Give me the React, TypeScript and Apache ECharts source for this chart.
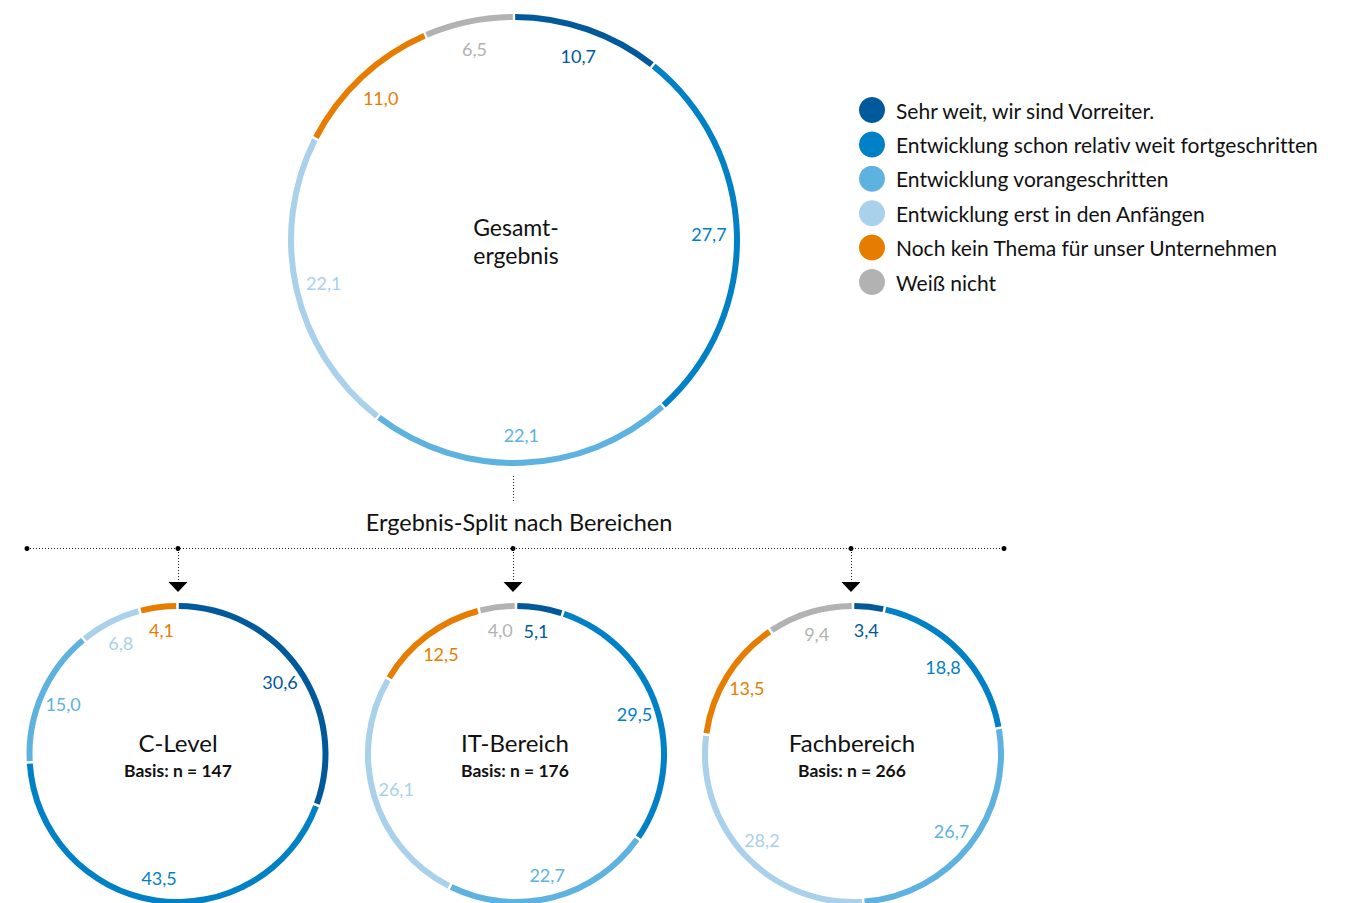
import React, { useEffect, useRef } from "react";
import * as echarts from "echarts";

// Answer categories (clockwise from 12 o'clock)
const categories = [
  "Sehr weit, wir sind Vorreiter.",
  "Entwicklung schon relativ weit fortgeschritten",
  "Entwicklung vorangeschritten",
  "Entwicklung erst in den Anfängen",
  "Noch kein Thema für unser Unternehmen",
  "Weiß nicht",
];

const colors = ["#00599b", "#0080c6", "#5eb2e0", "#a9d1ec", "#e77d00", "#b2b2b2"];

// Shares in percent
const gesamtValues = [10.7, 27.7, 22.1, 22.1, 11.0, 6.5];
const cLevelValues = [30.6, 43.5, 15.0, 6.8, 4.1, 0];
const itValues = [5.1, 29.5, 22.7, 26.1, 12.5, 4.0];
const fachValues = [3.4, 18.8, 26.7, 28.2, 13.5, 9.4];

const FONT = "Lato, 'Noto Sans', sans-serif";

const fmt = (v: number) => v.toFixed(1).replace(".", ",");

function ringSeries(
  values: number[],
  center: [number, number],
  outer: number,
  thickness: number,
  labelR: number,
  pad: number
) {
  const items = values
    .map((v, i) => ({ v, i }))
    .filter((d) => d.v > 0);
  const ring = {
    type: "pie",
    center,
    radius: [outer - thickness, outer],
    startAngle: 90,
    padAngle: pad,
    silent: true,
    label: { show: false },
    labelLine: { show: false },
    emphasis: { disabled: true },
    data: items.map((d) => ({
      name: categories[d.i],
      value: d.v,
      itemStyle: { color: colors[d.i] },
    })),
  };
  const labels = {
    type: "pie",
    center,
    radius: [labelR - 8, labelR + 8],
    startAngle: 90,
    padAngle: pad,
    silent: true,
    legendHoverLink: false,
    emphasis: { disabled: true },
    labelLine: { show: false },
    data: items.map((d) => ({
      name: categories[d.i],
      value: d.v,
      itemStyle: { color: "transparent" },
      label: {
        show: true,
        position: "inside",
        formatter: fmt(d.v),
        color: colors[d.i],
        fontSize: 18,
        fontFamily: FONT,
      },
    })),
  };
  return [ring, labels];
}

export default function App() {
  const ref = useRef<HTMLDivElement>(null);

  useEffect(() => {
    if (!ref.current) return;
    const chart = echarts.init(ref.current, null, { renderer: "svg" });

    const dot = "#222";
    const dash = [1, 2];
    const splitXs = [178, 513, 851];

    const centerText = (text: string, x: number, y: number, size: number, bold = false) => ({
      type: "text",
      x,
      y,
      style: {
        text,
        align: "center",
        verticalAlign: "middle",
        fontSize: size,
        fontWeight: bold ? "bold" : "normal",
        fontFamily: FONT,
        fill: "#111",
      },
    });

    const graphic: any[] = [
      // centre title of the overall ring
      centerText("Gesamt-", 516, 227, 23),
      centerText("ergebnis", 516, 255, 23),
      // connector from the main ring
      {
        type: "line",
        shape: { x1: 513.5, y1: 476, x2: 513.5, y2: 503 },
        style: { stroke: dot, lineWidth: 1, lineDash: dash },
      },
      centerText("Ergebnis-Split nach Bereichen", 519, 522, 23.5),
      {
        type: "line",
        shape: { x1: 27, y1: 548.5, x2: 1004, y2: 548.5 },
        style: { stroke: dot, lineWidth: 1, lineDash: dash },
      },
      ...[27, ...splitXs, 1004].map((x) => ({
        type: "circle",
        shape: { cx: x, cy: 548.5, r: 2.5 },
        style: { fill: "#000" },
      })),
      ...splitXs.map((x) => ({
        type: "line",
        shape: { x1: x + 0.5, y1: 549, x2: x + 0.5, y2: 582 },
        style: { stroke: dot, lineWidth: 1, lineDash: dash },
      })),
      ...splitXs.map((x) => ({
        type: "polygon",
        shape: { points: [[x - 9.5, 582], [x + 9.5, 582], [x, 592]] },
        style: { fill: "#000" },
      })),
    ];

    const subCharts: [string, string, number][] = [
      ["C-Level", "Basis: n = 147", 178],
      ["IT-Bereich", "Basis: n = 176", 515],
      ["Fachbereich", "Basis: n = 266", 852],
    ];
    subCharts.forEach(([title, basis, x]) => {
      graphic.push(centerText(title, x, 742, 24));
      graphic.push(centerText(basis, x, 770, 17.5, true));
    });

    chart.setOption({
      animation: false,
      backgroundColor: "#fff",
      legend: {
        orient: "vertical",
        left: 854,
        top: 92,
        icon: "circle",
        itemWidth: 26,
        itemHeight: 26,
        itemGap: 8.4,
        selectedMode: false,
        data: categories.map((name, i) => ({
          name,
          itemStyle: { color: colors[i] },
        })),
        textStyle: {
          fontSize: 21,
          fontFamily: FONT,
          color: "#111",
          padding: [0, 0, 0, 6],
        },
      },
      series: [
        ...ringSeries(gesamtValues, [514, 240], 226, 6, 192, 0.6),
        ...ringSeries(cLevelValues, [177.5, 754], 151, 6, 122, 1),
        ...ringSeries(itValues, [516, 754], 151, 6, 122, 1),
        ...ringSeries(fachValues, [853, 754], 151, 6, 122, 1),
      ],
      graphic,
    });

    return () => chart.dispose();
  }, []);

  return (
    <>
      <style>{"svg text { font-variant-ligatures: none !important; font-feature-settings: 'liga' 0, 'clig' 0 !important; }"}</style>
      <div
        ref={ref}
        style={{
          position: "fixed",
          left: 0,
          top: 0,
          width: 1353,
          height: 903,
          background: "#fff",
        }}
      />
    </>
  );
}
